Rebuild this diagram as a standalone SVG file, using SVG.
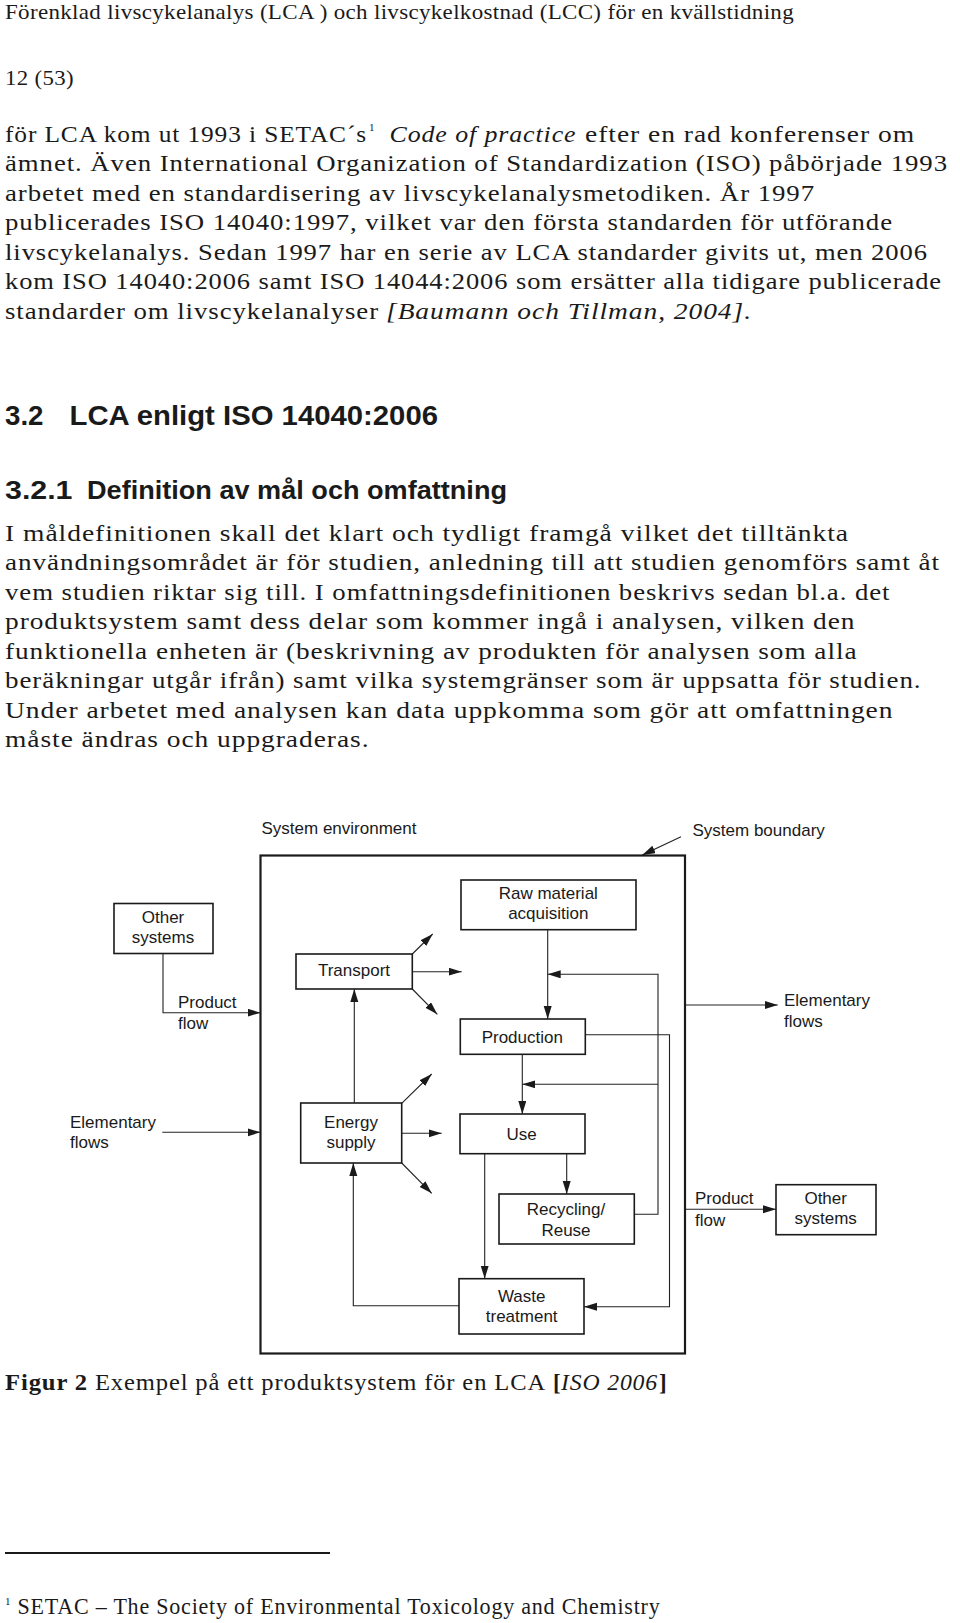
<svg xmlns="http://www.w3.org/2000/svg" width="960" height="1623" viewBox="0 0 960 1623">
<style>
.t{font-family:"Liberation Serif","Times New Roman",serif;font-size:23px;letter-spacing:0.8px;fill:#1a1a1a}
.hd{font-size:21px;letter-spacing:0.3px}
.sup{font-size:11px;letter-spacing:0}
.i{font-style:italic}
.b{font-weight:bold}
.h{font-family:"Liberation Sans",Arial,sans-serif;font-weight:bold;fill:#1a1a1a}
.d{font-family:"Liberation Sans",Arial,sans-serif;font-size:17px;fill:#1a1a1a}
.c{text-anchor:middle}
.box{fill:#fff;stroke:#1a1a1a;stroke-width:1.6}
.ar{fill:none;stroke:#222;stroke-width:1.1;marker-end:url(#ah)}
</style>
<defs>
<marker id="ah" markerUnits="userSpaceOnUse" markerWidth="14" markerHeight="10" refX="13" refY="4" orient="auto">
<path d="M0,0 L13,4 L0,8 z" fill="#1a1a1a"/>
</marker>
</defs>
<rect width="960" height="1623" fill="#fff"/>

<g id="page-text">
<text class="t hd" x="5" y="18.5" textLength="789" lengthAdjust="spacingAndGlyphs">Förenklad livscykelanalys (LCA ) och livscykelkostnad (LCC) för en kvällstidning</text>
<text class="t hd" x="5" y="85" textLength="69" lengthAdjust="spacingAndGlyphs">12 (53)</text>

<text class="t" x="5" y="141.5" textLength="362" lengthAdjust="spacingAndGlyphs">för LCA kom ut 1993 i SETAC´s</text>
<text class="t sup" x="369" y="131">1</text>
<text class="t i" x="389.5" y="141.5" textLength="187" lengthAdjust="spacingAndGlyphs">Code of practice</text>
<text class="t" x="585" y="141.5" textLength="330" lengthAdjust="spacingAndGlyphs">efter en rad konferenser om</text>
<text class="t" x="5" y="171" textLength="943" lengthAdjust="spacingAndGlyphs">ämnet. Även International Organization of Standardization (ISO) påbörjade 1993</text>
<text class="t" x="5" y="200.5" textLength="810" lengthAdjust="spacingAndGlyphs">arbetet med en standardisering av livscykelanalysmetodiken. År 1997</text>
<text class="t" x="5" y="230" textLength="888" lengthAdjust="spacingAndGlyphs">publicerades ISO 14040:1997, vilket var den första standarden för utförande</text>
<text class="t" x="5" y="259.5" textLength="923" lengthAdjust="spacingAndGlyphs">livscykelanalys. Sedan 1997 har en serie av LCA standarder givits ut, men 2006</text>
<text class="t" x="5" y="289" textLength="937" lengthAdjust="spacingAndGlyphs">kom ISO 14040:2006 samt ISO 14044:2006 som ersätter alla tidigare publicerade</text>
<text class="t" x="5" y="318.5" textLength="374" lengthAdjust="spacingAndGlyphs">standarder om livscykelanalyser</text>
<text class="t i" x="386" y="318.5" textLength="366" lengthAdjust="spacingAndGlyphs">[Baumann och Tillman, 2004].</text>

<text class="h" x="5" y="425" font-size="28" textLength="38.5" lengthAdjust="spacingAndGlyphs">3.2</text>
<text class="h" x="69.5" y="425" font-size="28" textLength="368.5" lengthAdjust="spacingAndGlyphs">LCA enligt ISO 14040:2006</text>
<text class="h" x="5" y="498.5" font-size="25" textLength="67.5" lengthAdjust="spacingAndGlyphs">3.2.1</text>
<text class="h" x="87" y="498.5" font-size="25" textLength="420" lengthAdjust="spacingAndGlyphs">Definition av mål och omfattning</text>

<text class="t" x="5" y="540.5" textLength="844" lengthAdjust="spacingAndGlyphs">I måldefinitionen skall det klart och tydligt framgå vilket det tilltänkta</text>
<text class="t" x="5" y="570" textLength="935" lengthAdjust="spacingAndGlyphs">användningsområdet är för studien, anledning till att studien genomförs samt åt</text>
<text class="t" x="5" y="599.5" textLength="885.5" lengthAdjust="spacingAndGlyphs">vem studien riktar sig till. I omfattningsdefinitionen beskrivs sedan bl.a. det</text>
<text class="t" x="5" y="629" textLength="850.5" lengthAdjust="spacingAndGlyphs">produktsystem samt dess delar som kommer ingå i analysen, vilken den</text>
<text class="t" x="5" y="658.5" textLength="852.5" lengthAdjust="spacingAndGlyphs">funktionella enheten är (beskrivning av produkten för analysen som alla</text>
<text class="t" x="5" y="688" textLength="916.5" lengthAdjust="spacingAndGlyphs">beräkningar utgår ifrån) samt vilka systemgränser som är uppsatta för studien.</text>
<text class="t" x="5" y="717.5" textLength="888.5" lengthAdjust="spacingAndGlyphs">Under arbetet med analysen kan data uppkomma som gör att omfattningen</text>
<text class="t" x="5" y="747" textLength="364.5" lengthAdjust="spacingAndGlyphs">måste ändras och uppgraderas.</text>

<text class="t b" x="5" y="1390" textLength="83" lengthAdjust="spacingAndGlyphs">Figur 2</text>
<text class="t" x="95" y="1390" textLength="451" lengthAdjust="spacingAndGlyphs">Exempel på ett produktsystem för en LCA</text>
<text class="t b" x="553" y="1390">[</text>
<text class="t i" x="561" y="1390" textLength="97" lengthAdjust="spacingAndGlyphs">ISO 2006</text>
<text class="t b" x="659" y="1390">]</text>

<line x1="5" y1="1553" x2="330" y2="1553" stroke="#1a1a1a" stroke-width="2"/>
<text class="t sup" x="5" y="1605">1</text>
<text class="t" x="17.5" y="1614" textLength="643" lengthAdjust="spacingAndGlyphs">SETAC – The Society of Environmental Toxicology and Chemistry</text>
</g>

<g id="diagram-labels">
<text class="d" x="261.5" y="834">System environment</text>
<text class="d" x="692.5" y="836">System boundary</text>
<text class="d" x="178" y="1008">Product</text>
<text class="d" x="178" y="1029">flow</text>
<text class="d" x="784" y="1006">Elementary</text>
<text class="d" x="784" y="1026.5">flows</text>
<text class="d" x="70" y="1128.3">Elementary</text>
<text class="d" x="70" y="1148.3">flows</text>
<text class="d" x="695" y="1204.3">Product</text>
<text class="d" x="695" y="1225.7">flow</text>
</g>

<g id="connectors">
<polyline class="ar" points="163,953.5 163,1012.7 260.5,1012.7"/>
<line class="ar" x1="412.3" y1="954" x2="432.7" y2="934"/>
<line class="ar" x1="412.3" y1="971.7" x2="461.7" y2="971.7"/>
<line class="ar" x1="412.3" y1="989" x2="437.3" y2="1014.3"/>
<line class="ar" x1="354.3" y1="1103" x2="354.3" y2="989"/>
<line class="ar" x1="547.7" y1="929.7" x2="547.7" y2="1019"/>
<polyline class="ar" points="634.3,1214.3 658,1214.3 658,974.3 547.7,974.3"/>
<line class="ar" x1="658" y1="1084.3" x2="522.3" y2="1084.3"/>
<line class="ar" x1="522.3" y1="1054.3" x2="522.3" y2="1114"/>
<polyline class="ar" points="585.3,1034.7 669.5,1034.7 669.5,1306.7 584,1306.7"/>
<line class="ar" x1="685" y1="1005" x2="777.7" y2="1005"/>
<line class="ar" x1="566.7" y1="1153.7" x2="566.7" y2="1194"/>
<line class="ar" x1="484.7" y1="1153.7" x2="484.7" y2="1278.7"/>
<polyline class="ar" points="459,1305.7 353.3,1305.7 353.3,1163"/>
<line class="ar" x1="162.3" y1="1132.3" x2="260.5" y2="1132.3"/>
<line class="ar" x1="401.7" y1="1103.3" x2="431.7" y2="1074"/>
<line class="ar" x1="401.7" y1="1133.3" x2="441.7" y2="1133.3"/>
<line class="ar" x1="401.7" y1="1163" x2="431.7" y2="1193.3"/>
<line class="ar" x1="684.5" y1="1209.3" x2="776" y2="1209.3"/>
<line class="ar" x1="681" y1="836.7" x2="642.3" y2="855"/>
</g>

<g id="system-boundary">
<rect x="260.5" y="855.5" width="424.5" height="498" fill="none" stroke="#1a1a1a" stroke-width="2.2"/>
</g>

<g id="other-systems-in">
<rect class="box" x="114" y="903.5" width="99" height="50"/>
<text class="d c" x="163" y="923">Other</text>
<text class="d c" x="163" y="943">systems</text>
</g>
<g id="transport">
<rect class="box" x="296" y="954" width="116.3" height="35"/>
<text class="d c" x="354" y="976">Transport</text>
</g>
<g id="raw-material">
<rect class="box" x="461" y="880" width="175" height="49.7"/>
<text class="d c" x="548.3" y="899">Raw material</text>
<text class="d c" x="548.3" y="919.3">acquisition</text>
</g>
<g id="production">
<rect class="box" x="460.3" y="1019" width="125" height="35.3"/>
<text class="d c" x="522.3" y="1042.7">Production</text>
</g>
<g id="energy-supply">
<rect class="box" x="300.7" y="1103" width="101" height="60"/>
<text class="d c" x="351" y="1128.3">Energy</text>
<text class="d c" x="351" y="1148.3">supply</text>
</g>
<g id="use">
<rect class="box" x="460" y="1114" width="125" height="39.7"/>
<text class="d c" x="521.7" y="1140">Use</text>
</g>
<g id="recycling">
<rect class="box" x="499" y="1194" width="135.3" height="50"/>
<text class="d c" x="566" y="1215">Recycling/</text>
<text class="d c" x="566" y="1235.7">Reuse</text>
</g>
<g id="waste-treatment">
<rect class="box" x="459" y="1278.7" width="125" height="55.3"/>
<text class="d c" x="521.7" y="1301.7">Waste</text>
<text class="d c" x="521.7" y="1322.3">treatment</text>
</g>
<g id="other-systems-out">
<rect class="box" x="776" y="1184.7" width="100" height="50"/>
<text class="d c" x="825.7" y="1204">Other</text>
<text class="d c" x="825.7" y="1224">systems</text>
</g>
</svg>
